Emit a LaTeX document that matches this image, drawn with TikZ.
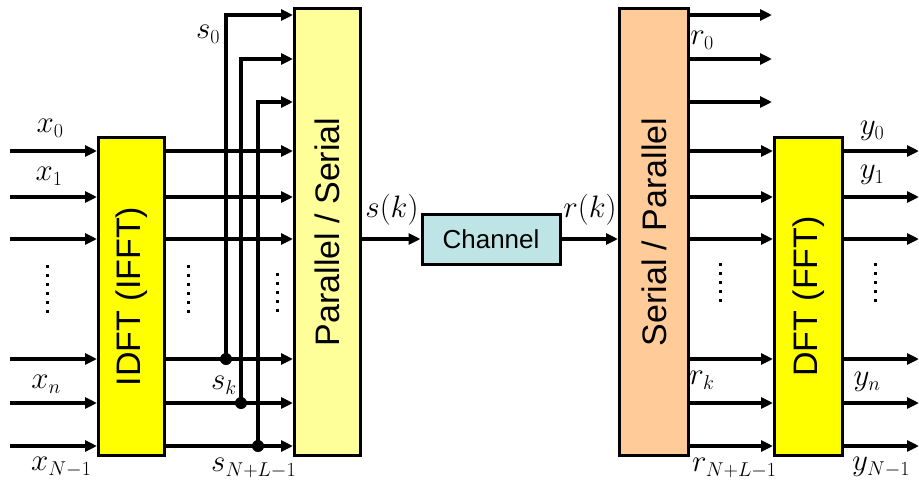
\RequirePackage{fix-cm}
\documentclass[tikz,border=0pt]{standalone}
\usepackage{fontspec}
\setmainfont{Liberation Sans}
\usetikzlibrary{arrows.meta}
\DeclareMathSizes{31}{31}{20}{14}

\definecolor{idftyellow}{RGB}{255,255,0}
\definecolor{psyellow}{RGB}{255,255,153}
\definecolor{sppeach}{RGB}{255,204,153}
\definecolor{chancyan}{RGB}{190,228,230}

\begin{document}
\begin{tikzpicture}[x=1pt,y=-1pt,
  block/.style={draw, line width=3pt, inner sep=0pt, anchor=north west},
  blocktext/.style={rotate=90, inner sep=0pt, font=\fontsize{34}{38}\selectfont},
  sig/.style={line width=3.8pt, -{Triangle[length=12pt,width=11pt]}},
  lbl/.style={inner sep=0pt, font=\fontsize{31}{34}\selectfont},
  vdots/.style={line width=3pt, dash pattern=on 3pt off 6pt},
  junction/.style={circle, fill=black, minimum size=12pt, inner sep=0pt}
]
\useasboundingbox (0,0) rectangle (919,483);

% processing blocks
\node[block, fill=idftyellow, minimum width=66pt, minimum height=318pt] (idft) at (97,136) {};
\node[block, fill=psyellow, minimum width=66pt, minimum height=447pt] (ps) at (293,7) {};
\node[block, fill=sppeach, minimum width=69pt, minimum height=447pt] (sp) at (618,7) {};
\node[block, fill=idftyellow, minimum width=68pt, minimum height=318pt] (dft) at (773,136) {};
\node[draw, line width=3pt, fill=chancyan, minimum width=138pt, minimum height=50pt,
      inner sep=0pt, font=\fontsize{26}{30}\selectfont] (chan) at (491,239) {Channel};

\node[blocktext] (idfttxt) at (idft.center) {IDFT (IFFT)};
\node[blocktext] (pstxt) at (ps.center) {Parallel / Serial};
\node[blocktext] (sptxt) at (sp.center) {Serial / Parallel};
\node[blocktext] (dfttxt) at (dft.center) {DFT (FFT)};

% row positions
\coordinate (t1) at (0,15);
\coordinate (t2) at (0,59);
\coordinate (t3) at (0,102);
\foreach \n/\y in {1/151,2/197,3/239,4/359,5/403,6/446}{
  \coordinate (row\n) at (0,\y);
  \coordinate (in\n) at (10,\y);
  \coordinate (out\n) at (919,\y);
}

% inputs to the IDFT, IDFT to parallel/serial, S/P to DFT, DFT outputs
\foreach \n in {1,...,6}{
  \draw[sig] (in\n) -- (idft.west |- row\n);
  \draw[sig] (idft.east |- row\n) -- (ps.west |- row\n);
  \draw[sig] (sp.east |- row\n) -- (dft.west |- row\n);
  \draw[sig] (dft.east |- row\n) -- (out\n);
}

% cyclic prefix taps
\node[junction] (j1) at (226,359) {};
\node[junction] (j2) at (241,403) {};
\node[junction] (j3) at (258,446) {};
\draw[sig] (j1.center) |- (ps.west |- t1);
\draw[sig] (j2.center) |- (ps.west |- t2);
\draw[sig] (j3.center) |- (ps.west |- t3);

% serial link through the channel
\draw[sig] (ps.east |- chan.west) -- (chan.west);
\draw[sig] (chan.east) -- (sp.west |- chan.east);

% discarded prefix outputs
\coordinate (o1) at (772,15);
\coordinate (o2) at (772,59);
\coordinate (o3) at (772,102);
\draw[sig] (sp.east |- o1) -- (o1);
\draw[sig] (sp.east |- o2) -- (o2);
\draw[sig] (sp.east |- o3) -- (o3);

% vertical ellipses
\draw[vdots] (47,265) -- (47,313);
\draw[vdots] (188,265) -- (188,313);
\draw[vdots] (277,273) -- (277,313);
\draw[vdots] (720,263) -- (720,302);
\draw[vdots] (875,263) -- (875,302);

% labels
\node[lbl] (lx0) at (50,128) {$x_0$};
\node[lbl] (lx1) at (49,176) {$x_1$};
\node[lbl] (lxn) at (46,384) {$x_n$};
\node[lbl, anchor=west] (lxN) at (31,467) {$x_{N-1}$};
\node[lbl] (ls0) at (208,34) {$s_0$};
\node[lbl] (lsk) at (224,385) {$s_k$};
\node[lbl, anchor=west] (lsN) at (211,468) {$s_{N+L-1}$};
\node[lbl] (lsk2) at (392,210) {$s(k)$};
\node[lbl] (lrk2) at (590,210) {$r(k)$};
\node[lbl] (lr0) at (702,40) {$r_0$};
\node[lbl] (lrk) at (702,380) {$r_k$};
\node[lbl, anchor=west] (lrN) at (692,468) {$r_{N+L-1}$};
\node[lbl] (ly0) at (872,131) {$y_0$};
\node[lbl] (ly1) at (872,175) {$y_1$};
\node[lbl] (lyn) at (867,382) {$y_n$};
\node[lbl, anchor=west] (lyN) at (852,467) {$y_{N-1}$};
\end{tikzpicture}
\end{document}
